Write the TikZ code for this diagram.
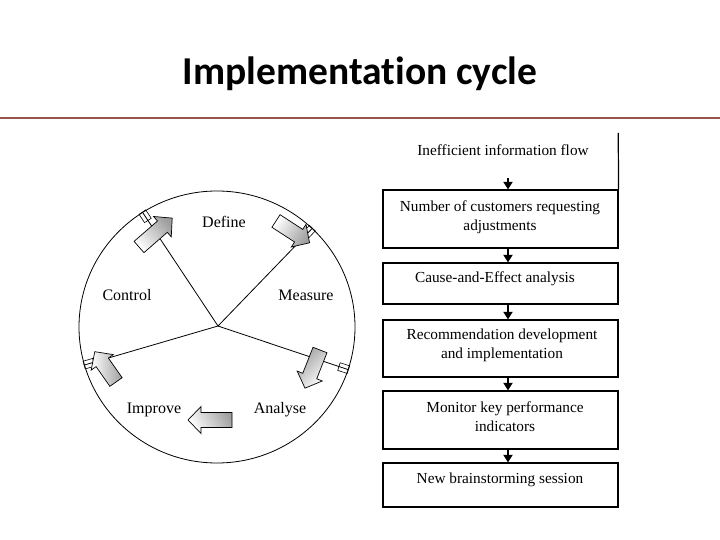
\documentclass[tikz,border=0pt]{standalone}
\usepackage{fontspec}
\setmainfont{Liberation Serif}
\newfontfamily\titlefont[Ligatures=NoCommon]{Carlito}
\usetikzlibrary{arrows.meta,calc,shapes.geometric}
\definecolor{redline}{RGB}{150,85,75}
\newcommand{\blkarrow}[5]{%
  \begin{scope}[shift={(#1,#2)},rotate=#3]
    \path[blockarrow,shading angle=#5]
      (0,-7.5) -- (#4-13,-7.5) -- (#4-13,-13.5) -- (#4,0) -- (#4-13,13.5) -- (#4-13,7.5) -- (0,7.5) -- cycle;
  \end{scope}}
\begin{document}
\begin{tikzpicture}[x=1pt,y=-1pt,
  boxnode/.style={draw,line width=1.2pt,minimum width=235pt,inner sep=0pt},
  boxline/.style={line width=1.2pt},
  flowtxt/.style={font=\fontsize{15.3}{18.5}\selectfont,align=center,inner sep=0pt},
  seglabel/.style={font=\fontsize{16}{19}\selectfont,inner sep=0pt,anchor=base},
  flowarrow/.style={line width=1.8pt,-{Triangle[length=7.5pt,width=9pt]}},
  spoke/.style={line width=0.8pt},
  tabbox/.style={draw,line width=0.6pt,minimum width=10pt,minimum height=8pt,inner sep=0pt},
  blockarrow/.style={draw=black,line width=0.7pt,top color=white,bottom color=gray!75}
]
\useasboundingbox (0,0) rectangle (720,540);
% title and rule
\node[font=\titlefont\bfseries\fontsize{39.5}{46}\selectfont,anchor=base] (title) at (360,85) {Implementation cycle};
\coordinate (rl) at (0,118.5);
\coordinate (rr) at (720,118.5);
\draw[redline,line width=2pt] (rl) -- (rr);

% wheel
\node[ellipse,draw,line width=0.8pt,minimum width=276pt,minimum height=272pt,inner sep=0pt] (wheel) at (217,327) {};
\coordinate (O) at (218,326);
\draw[spoke] (O) -- (wheel.123.3);
\draw[spoke] (O) -- (wheel.46.8);
\draw[spoke] (O) -- (wheel.-18.2);
\draw[spoke] (O) -- (wheel.196.3);
\node[tabbox,rotate=123.3] (tabA) at ($(wheel.123.3)!5pt!(O)$) {};
\node[tabbox,rotate=46.8] (tabB) at ($(wheel.46.8)!5pt!(O)$) {};
\node[tabbox,rotate=-18.2] (tabC) at ($(wheel.-18.2)!5pt!(O)$) {};
\node[tabbox,rotate=196.3] (tabD) at ($(wheel.196.3)!5pt!(O)$) {};

% block arrows
\blkarrow{139}{247}{41}{44}{131}
\blkarrow{276}{221}{-33}{40}{57}
\blkarrow{320}{350}{-111.5}{41}{225}
\blkarrow{116}{382}{125}{37}{90}
\blkarrow{232}{420}{180}{44}{120}

% wheel labels
\node[seglabel] (define) at (224,227) {Define};
\node[seglabel] (control) at (127,300) {Control};
\node[seglabel] (measure) at (306,300) {Measure};
\node[seglabel] (improve) at (154,413) {Improve};
\node[seglabel] (analyse) at (280,413) {Analyse};

% flowchart
\node[inner sep=0pt,minimum width=235pt,minimum height=45pt] (b1) at (500.5,155.5) {};
\node[boxnode,minimum height=58pt] (b2) at (500.5,219) {};
\node[boxnode,minimum height=41pt] (b3) at (500.5,283.5) {};
\node[boxnode,minimum height=57pt] (b4) at (500.5,348.5) {};
\node[boxnode,minimum height=58pt] (b5) at (500.5,420) {};
\node[boxnode,minimum height=44pt] (b6) at (500.5,485) {};
\draw[boxline] (b1.north east) -- (b2.north east);

\node[flowtxt] (t1) at (503,150) {Inefficient information flow};
\node[flowtxt] (t2) at (500,217) {Number of customers requesting\\adjustments};
\node[flowtxt] (t3) at (495,279) {Cause-and-Effect analysis};
\node[flowtxt] (t4) at (502,345.5) {Recommendation development\\and implementation};
\node[flowtxt] (t5) at (505,416.5) {Monitor key performance\\indicators};
\node[flowtxt] (t6) at (500,480) {New brainstorming session};

\draw[flowarrow] ([xshift=7.5pt]b1.south) -- ([xshift=7.5pt]b2.north);
\draw[flowarrow] ([xshift=7.5pt]b2.south) -- ([xshift=7.5pt]b3.north);
\draw[flowarrow] ([xshift=7.5pt]b3.south) -- ([xshift=7.5pt]b4.north);
\draw[flowarrow] ([xshift=7.5pt]b4.south) -- ([xshift=7.5pt]b5.north);
\draw[flowarrow] ([xshift=7.5pt]b5.south) -- ([xshift=7.5pt]b6.north);
\end{tikzpicture}
\end{document}
